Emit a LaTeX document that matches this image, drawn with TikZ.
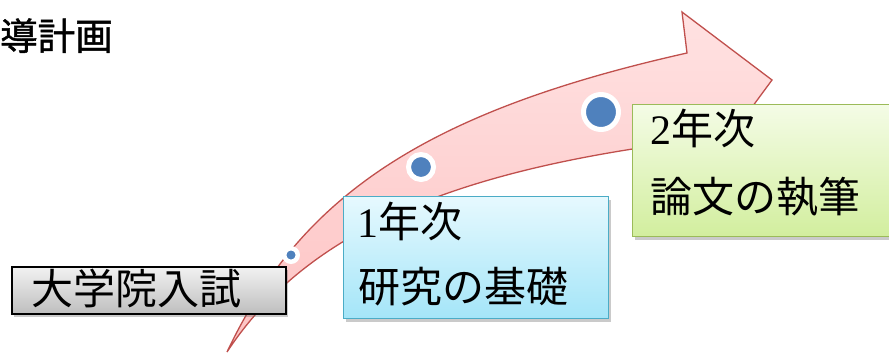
\documentclass[tikz,border=0pt]{standalone}
\usepackage{fontspec}
\newfontfamily\jp{Noto Sans CJK JP}
\newfontfamily\jpheavy{Noto Sans CJK JP}[FakeBold=1.2]
\newfontfamily\digits{Liberation Serif}
\usetikzlibrary{shadows}
\definecolor{arrowline}{HTML}{C0504D}
\definecolor{arrowtop}{HTML}{FFE2E2}
\definecolor{arrowbot}{HTML}{FDC2C2}
\definecolor{dotblue}{HTML}{4F81BD}
\definecolor{blueline}{HTML}{4BACC6}
\definecolor{bluetop}{HTML}{E6F9FE}
\definecolor{bluebot}{HTML}{A4E5F8}
\definecolor{greenline}{HTML}{9BBB59}
\definecolor{greentop}{HTML}{F4FCE6}
\definecolor{greenbot}{HTML}{D2EE9E}
\definecolor{graytop}{HTML}{F2F2F2}
\definecolor{graybot}{HTML}{BEBEBE}
\begin{document}
\begin{tikzpicture}[x=1pt,y=-1pt,
  boxshadow/.style={drop shadow={shadow xshift=2pt,shadow yshift=-3pt,opacity=0.35,fill=black!60}},
  examstyle/.style={rectangle,draw=black,line width=1.6pt,top color=graytop,bottom color=graybot,inner sep=0pt,anchor=north west,boxshadow},
  yearone/.style={rectangle,draw=blueline,line width=1.4pt,top color=bluetop,bottom color=bluebot,inner sep=0pt,anchor=north west,boxshadow},
  yeartwo/.style={rectangle,draw=greenline,line width=1.4pt,top color=greentop,bottom color=greenbot,inner sep=0pt,anchor=north west,boxshadow},
  boxtext/.style={inner sep=0pt,anchor=base west,font=\jp\fontsize{42}{46}\selectfont},
  dotstyle/.style={circle,fill=dotblue,draw=white,inner sep=0pt},
  arrowshape/.style={draw=arrowline,line width=1.3pt,top color=arrowtop,bottom color=arrowbot,line join=miter}
]
\useasboundingbox (0,0) rectangle (889,354);
\clip (0,0) rectangle (889,354);
% arrow
\coordinate (tail) at (227,352);
\coordinate (sc1) at (687,53);
\coordinate (ht) at (682,12);
\coordinate (tip) at (772,80);
\coordinate (hb) at (702,175);
\coordinate (sc2) at (697,140);
\path[arrowshape] (tail) .. controls (299,200) and (419,113) .. (sc1) -- (ht) -- (tip) -- (hb) -- (sc2) .. controls (469,168) and (311,224) .. cycle;
% dots
\node[dotstyle,minimum size=13.5pt,line width=4.5pt] (d1) at (291,255) {};
\node[dotstyle,minimum size=25pt,line width=5pt] (d2) at (421,167) {};
\node[dotstyle,minimum size=35pt,line width=5pt] (d3) at (601,112) {};
% title
\node[inner sep=0pt,anchor=base west,font=\jpheavy\fontsize{37.5}{40}\selectfont] (title) at (0,50) {導計画};
% boxes
\node[examstyle,minimum width=274pt,minimum height=47pt] (exam) at (11,266) {};
\node[boxtext] (examtext) at (31,304) {大学院入試};
\node[yearone,minimum width=265pt,minimum height=122pt] (one) at (343,196) {};
\node[boxtext] (onea) at (357,237) {{\digits 1}年次};
\node[boxtext] (oneb) at (358,302) {研究の基礎};
\node[yeartwo,minimum width=275pt,minimum height=132pt] (two) at (632,104) {};
\node[boxtext] (twoa) at (650,144) {{\digits 2}年次};
\node[boxtext] (twob) at (650,212) {論文の執筆};
\end{tikzpicture}
\end{document}
